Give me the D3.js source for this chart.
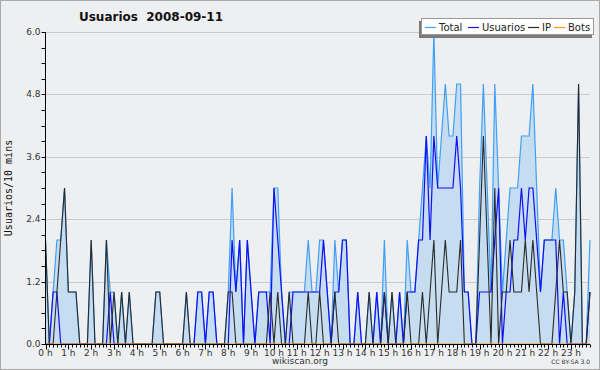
<!DOCTYPE html>
<html>
<head>
<meta charset="utf-8">
<script src="https://cdn.jsdelivr.net/npm/d3@7"></script>
<style>
  body { margin: 0; background: #fff; }
  svg { display: block; font-family: "DejaVu Sans", sans-serif; }
</style>
</head>
<body>
<div id="viz"></div>
<script>
const width = 600;
const height = 370;
const margin = {top: 32, right: 10, bottom: 26, left: 45};

// 10 minute slots, 144 per day
const hourLabels = d3.range(24).map(h => h + ' h');
const yTicks = [0, 1.2, 2.4, 3.6, 4.8, 6.0];

const total = [2,0,1,2,2,3,1,1,1,0,0,0,2,0,0,0,2,1,1,0,1,0,1,0,
  0,0,0,0,0,1,1,0,0,0,0,0,0,1,0,0,1,1,0,1,1,0,0,0,
  1,3,1,2,0,2,1,0,1,1,1,1,3,3,1,0,1,1,1,1,1,2,1,1,
  2,2,1,0,2,1,2,2,0,0,1,0,0,1,0,1,0,2,0,1,0,1,0,2,
  1,1,2,3,4,3,6,3,4,5,4,4,5,5,1,1,0,0,3,5,3,1,5,3,
  1,2,3,3,3,4,4,4,5,3,1,2,2,2,3,2,2,1,0,1,5,0,0,2];
const usuarios = [0,0,1,1,0,0,0,0,0,0,0,0,0,0,0,0,0,1,0,0,0,0,0,0,
  0,0,0,0,0,0,0,0,0,0,0,0,0,0,0,0,1,1,0,1,1,0,0,0,
  0,2,1,2,0,2,1,0,1,1,1,0,3,2,1,0,0,1,1,1,1,1,1,1,
  1,2,1,0,1,1,2,2,0,0,1,0,0,0,0,1,0,1,0,0,0,1,0,1,
  1,1,2,2,4,2,4,3,3,3,3,3,4,3,1,1,0,0,1,1,1,1,2,3,
  0,1,1,2,2,3,2,3,3,2,1,2,2,2,2,0,1,0,0,0,0,0,0,1];
const ip = [2,0,0,1,2,3,1,1,1,0,0,0,2,0,0,0,2,0,1,0,1,0,1,0,
  0,0,0,0,0,1,1,0,0,0,0,0,0,1,0,0,0,0,0,0,0,0,0,0,
  1,1,0,0,0,0,0,0,0,0,0,1,0,1,0,0,1,0,0,0,0,1,0,0,
  1,0,0,0,1,0,0,0,0,0,0,0,0,1,0,0,0,1,0,1,0,0,0,1,
  0,0,0,1,0,1,2,0,1,2,1,1,1,2,0,0,0,0,2,4,2,0,3,0,
  1,1,2,1,1,1,2,1,2,1,0,0,0,0,1,2,1,1,0,1,5,0,0,1];
const bots = total.map(() => 0);

const svg = d3.select('#viz').append('svg')
  .attr('width', width)
  .attr('height', height);

svg.append('rect')
  .attr('x', 0.5).attr('y', 0.5)
  .attr('width', width - 1).attr('height', height - 1)
  .attr('fill', '#eeeff1')
  .attr('stroke', '#a9a9a9');

const x = d3.scaleLinear().domain([0, 143]).range([margin.left + 0.5, width - margin.right]);
const y = d3.scaleLinear().domain([0, 6]).range([height - margin.bottom, margin.top]);

// grid
svg.append('g')
  .selectAll('line')
  .data(yTicks.slice(1))
  .join('line')
  .attr('x1', margin.left).attr('x2', width - margin.right)
  .attr('y1', d => Math.round(y(d)) + 0.5).attr('y2', d => Math.round(y(d)) + 0.5)
  .attr('stroke', '#cbcbcb');

const idx = d3.range(total.length);

svg.append('path')
  .datum(idx)
  .attr('fill', '#c6dcf0')
  .attr('d', d3.area().x(i => x(i)).y0(y(0)).y1(i => y(total[i])));

const line = arr => d3.line().x(i => x(i)).y(i => y(arr[i]));

svg.append('path').datum(idx)
  .attr('fill', 'none').attr('stroke', '#3fa0f5').attr('stroke-width', 1.2)
  .attr('d', line(total));
svg.append('path').datum(idx)
  .attr('fill', 'none').attr('stroke', '#1010f0').attr('stroke-width', 1.2)
  .attr('d', line(usuarios));
svg.append('path').datum(idx)
  .attr('fill', 'none').attr('stroke', '#2a2a2a').attr('stroke-width', 1.1)
  .attr('d', line(ip));
svg.append('path').datum(idx)
  .attr('fill', 'none').attr('stroke', '#ff9900').attr('stroke-width', 1)
  .attr('d', line(bots));

// y axis
const yAxis = svg.append('g').attr('transform', `translate(${margin.left + 0.5},0)`);
yAxis.append('line')
  .attr('y1', y(6)).attr('y2', y(0)).attr('stroke', '#000');
yAxis.selectAll('.minor')
  .data(d3.range(0, 21))
  .join('line')
  .attr('x1', -4).attr('x2', 0)
  .attr('y1', d => Math.round(y(d * 0.3)) + 0.5).attr('y2', d => Math.round(y(d * 0.3)) + 0.5)
  .attr('stroke', '#000');
yAxis.selectAll('text')
  .data(yTicks)
  .join('text')
  .attr('x', -5).attr('y', d => y(d) + 3)
  .attr('text-anchor', 'end')
  .attr('font-size', 9)
  .attr('fill', '#333')
  .text(d => d.toFixed(1));

// x axis
const xAxis = svg.append('g').attr('transform', `translate(0,${y(0) + 0.5})`);
xAxis.append('line')
  .attr('x1', margin.left).attr('x2', width - margin.right).attr('stroke', '#000');
xAxis.selectAll('.tick')
  .data(idx)
  .join('line')
  .attr('x1', i => Math.round(x(i)) + 0.5).attr('x2', i => Math.round(x(i)) + 0.5)
  .attr('y1', 0).attr('y2', i => i % 6 === 0 ? 5 : 3)
  .attr('stroke', '#000');
xAxis.selectAll('text')
  .data(hourLabels)
  .join('text')
  .attr('x', (d, h) => x(h * 6))
  .attr('y', 11)
  .attr('text-anchor', 'middle')
  .attr('font-size', 9)
  .attr('fill', '#333')
  .text(d => d);

// titles
svg.append('text')
  .attr('x', 151).attr('y', 21)
  .attr('text-anchor', 'middle')
  .attr('font-size', 12).attr('font-weight', 'bold')
  .attr('fill', '#111')
  .attr('xml:space', 'preserve')
  .text('Usuarios  2008-09-11');

svg.append('text')
  .attr('transform', `translate(12,${(y(0) + y(6)) / 2}) rotate(-90)`)
  .attr('text-anchor', 'middle')
  .attr('font-family', 'DejaVu Sans Mono')
  .attr('font-size', 10)
  .attr('fill', '#111')
  .text('Usuarios/10 mins');

svg.append('text')
  .attr('x', 300).attr('y', 364)
  .attr('text-anchor', 'middle')
  .attr('font-size', 9)
  .attr('fill', '#333')
  .text('wikiscan.org');

svg.append('text')
  .attr('x', 590).attr('y', 364)
  .attr('text-anchor', 'end')
  .attr('font-size', 6)
  .attr('fill', '#333')
  .text('CC BY-SA 3.0');

// legend
const legendItems = [
  {name: 'Total', color: '#3fa0f5', x: 425},
  {name: 'Usuarios', color: '#1010f0', x: 468},
  {name: 'IP', color: '#2a2a2a', x: 528},
  {name: 'Bots', color: '#ff9900', x: 554}
];
const lg = svg.append('g');
lg.append('rect')
  .attr('x', 419).attr('y', 21).attr('width', 173).attr('height', 17)
  .attr('fill', '#7a7a7a');
lg.append('rect')
  .attr('x', 421.5).attr('y', 18.5).attr('width', 172).attr('height', 16)
  .attr('fill', '#fff').attr('stroke', '#999');
const li = lg.selectAll('g.item')
  .data(legendItems)
  .join('g')
  .attr('transform', d => `translate(${d.x},27)`);
li.append('line')
  .attr('x1', 0).attr('x2', 11).attr('y1', 0.5).attr('y2', 0.5)
  .attr('stroke', d => d.color).attr('stroke-width', 1.2);
li.append('text')
  .attr('x', 14).attr('y', 4)
  .attr('font-size', 10)
  .attr('fill', '#222')
  .text(d => d.name);
</script>
</body>
</html>
